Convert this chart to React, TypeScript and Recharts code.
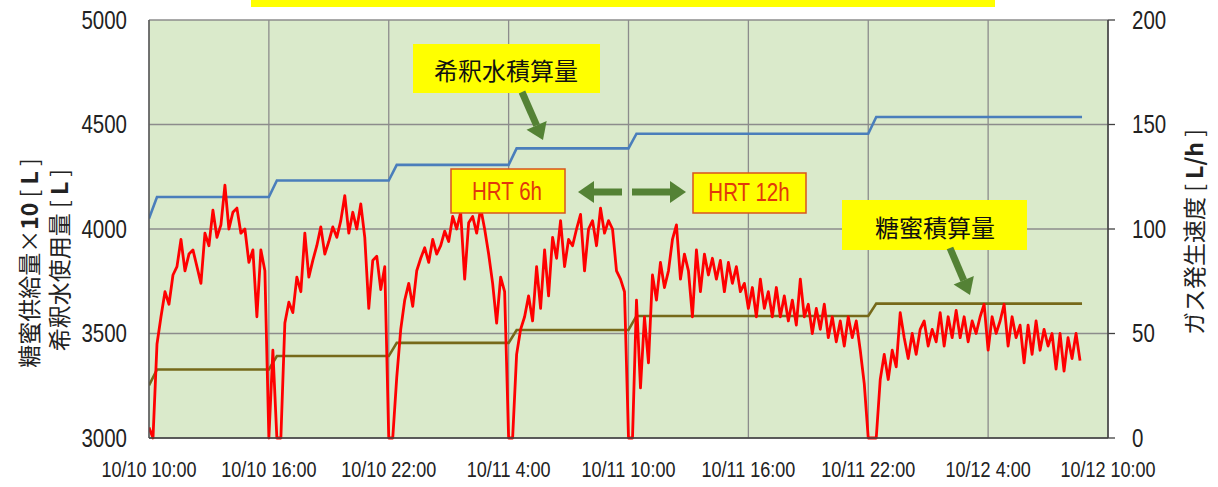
import React from "react";
import { ComposedChart, Line, XAxis, YAxis, CartesianGrid } from "recharts";

// ---- tick labels ----
const xTicks = [0, 6, 12, 18, 24, 30, 36, 42, 48];
const xTickLabels = [
  "10/10 10:00",
  "10/10 16:00",
  "10/10 22:00",
  "10/11 4:00",
  "10/11 10:00",
  "10/11 16:00",
  "10/11 22:00",
  "10/12 4:00",
  "10/12 10:00",
];
const leftTicks = [3000, 3500, 4000, 4500, 5000];
const rightTicks = [0, 50, 100, 150, 200];

// ---- 希釈水積算量 (hours from 10/10 10:00, L) ----
const waterHours = [0, 0.4, 6.0, 6.4, 12.0, 12.4, 18.0, 18.4, 24.0, 24.4, 36.0, 36.4, 46.7];
const waterValues = [4050, 4153, 4153, 4232, 4232, 4307, 4307, 4386, 4386, 4456, 4456, 4536, 4536];

// ---- 糖蜜積算量 ×10 (L) ----
const sugarHours = [0, 0.4, 6.0, 6.4, 12.0, 12.4, 18.0, 18.4, 24.0, 24.4, 36.0, 36.4, 46.7];
const sugarValues = [3252, 3328, 3328, 3392, 3392, 3455, 3455, 3517, 3517, 3584, 3584, 3643, 3643];

// ---- ガス発生速度 (L/h), one reading every 12 minutes from 10/10 10:00 ----
const gasStepHours = 0.2;
const gasValues = [
  // 10/10 10:00 - 16:00
  5, 0, 45, 58, 70, 64, 78, 82, 95, 80, 88, 90, 82, 74, 98, 92, 109, 96, 102, 121,
  100, 108, 110, 98, 100, 84, 90, 58, 90, 80,
  // 16:00 - 22:00
  0, 42, 0, 0, 55, 65, 60, 77, 70, 98, 77, 85, 92, 101, 88, 94, 101, 96, 104, 116,
  98, 108, 100, 112, 96, 62, 85, 87, 71, 82,
  // 22:00 - 4:00
  0, 0, 29, 52, 66, 74, 63, 80, 86, 91, 84, 95, 88, 92, 99, 94, 106, 100, 108, 76,
  103, 106, 98, 110, 100, 88, 74, 55, 77, 70,
  // 4:00 - 10:00
  0, 0, 40, 52, 58, 68, 56, 82, 62, 90, 68, 96, 86, 104, 82, 95, 92, 100, 107, 80,
  100, 104, 92, 110, 98, 104, 100, 80, 76, 70,
  // 10/11 10:00 - 22:00
  0, 0, 66, 24, 58, 36, 78, 66, 84, 72, 80, 95, 102, 76, 88, 80, 58, 90, 70, 88,
  78, 86, 76, 85, 70, 84, 74, 82, 70, 74, 62, 72, 58, 76, 62, 70, 58, 72, 58, 68,
  56, 66, 54, 76, 58, 64, 50, 62, 52, 64, 48, 58, 46, 56, 44, 58, 48, 56, 42, 26,
  // 10/11 22:00 - 10/12 8:40
  0, 0, 0, 28, 40, 28, 42, 34, 60, 48, 38, 50, 40, 52, 56, 44, 52, 46, 60, 44,
  58, 48, 61, 48, 58, 46, 56, 50, 58, 64, 42, 58, 50, 56, 64, 44, 58, 48, 54, 36,
  54, 40, 56, 42, 52, 44, 50, 33, 50, 32, 48, 38, 50, 37,
];

const waterData = waterHours.map((h, i) => ({ h, v: waterValues[i] }));
const sugarData = sugarHours.map((h, i) => ({ h, v: sugarValues[i] }));
const gasData = gasValues.map((v, i) => ({ h: Math.round(i * gasStepHours * 100) / 100, v }));

const SANS = "'Liberation Sans', Arial, sans-serif";
const CJK = "'Noto Sans CJK JP', 'Noto Sans', sans-serif";
const ARROW = "#548235";
const NARROW_SCALE = 0.82;

function NarrowText({ x, y, anchor, size, dy, color, children, weight }: any) {
  return (
    <text
      transform={`translate(${x},${y}) scale(${NARROW_SCALE},1)`}
      textAnchor={anchor}
      dy={dy}
      fontFamily={SANS}
      fontSize={size}
      fontWeight={weight}
      fill={color}
    >
      {children}
    </text>
  );
}

const XTick = (props: any) => {
  const { x, y, payload } = props;
  const idx = xTicks.indexOf(payload.value);
  return (
    <NarrowText x={x} y={y} anchor="middle" size={22} dy="0.62em" color="#222">
      {idx >= 0 ? xTickLabels[idx] : payload.value}
    </NarrowText>
  );
};

const LeftTick = (props: any) => {
  const { x, y, payload } = props;
  return (
    <NarrowText x={x} y={y} anchor="end" size={25} dy="0.355em" color="#222">
      {payload.value}
    </NarrowText>
  );
};

const RightTick = (props: any) => {
  const { x, y, payload } = props;
  return (
    <NarrowText x={x} y={y} anchor="start" size={25} dy="0.355em" color="#222">
      {payload.value}
    </NarrowText>
  );
};

function Arrow({ x1, y1, x2, y2, w = 7, hl = 16, hw = 11 }: any) {
  const dx = x2 - x1;
  const dy = y2 - y1;
  const len = Math.sqrt(dx * dx + dy * dy);
  const ux = dx / len;
  const uy = dy / len;
  const bx = x2 - ux * hl;
  const by = y2 - uy * hl;
  const px = -uy;
  const py = ux;
  const pts = `${x2},${y2} ${bx + px * hw},${by + py * hw} ${bx - px * hw},${by - py * hw}`;
  return (
    <g>
      <line x1={x1} y1={y1} x2={bx} y2={by} stroke={ARROW} strokeWidth={w} />
      <polygon points={pts} fill={ARROW} />
    </g>
  );
}

function Overlay() {
  return (
    <svg
      width={1218}
      height={487}
      style={{ position: "absolute", left: 0, top: 0, pointerEvents: "none" }}
    >
      {/* cut-off title box */}
      <rect x={251} y={0} width={744} height={7} fill="#ffff00" />

      {/* left axis title */}
      <text
        transform="translate(28,263) rotate(-90)"
        textAnchor="middle"
        dominantBaseline="central"
        fontFamily={CJK}
        fontSize={23}
        fill="#222"
      >
        糖蜜供給量×<tspan fontWeight="bold">10</tspan> [ <tspan fontWeight="bold">L</tspan> ]
      </text>
      <text
        transform="translate(58,260) rotate(-90)"
        textAnchor="middle"
        dominantBaseline="central"
        fontFamily={CJK}
        fontSize={23}
        fill="#222"
      >
        希釈水使用量 [ <tspan fontWeight="bold">L</tspan> ]
      </text>

      {/* right axis title */}
      <text
        transform="translate(1193,232) rotate(-90)"
        textAnchor="middle"
        dominantBaseline="central"
        fontFamily={CJK}
        fontSize={23}
        fill="#222"
      >
        ガス発生速度 [ <tspan fontWeight="bold">L/h</tspan> ]
      </text>

      {/* 希釈水積算量 */}
      <rect x={413} y={44} width={187} height={49} fill="#ffff00" />
      <text x={506} y={69} textAnchor="middle" dominantBaseline="central" fontFamily={CJK} fontSize={24} fill="#111">
        希釈水積算量
      </text>
      <Arrow x1={522} y1={92} x2={543} y2={140} />

      {/* HRT 6h */}
      <rect x={451} y={169} width={114} height={44} fill="#ffff00" stroke="#d9541e" strokeWidth={1.5} />
      <NarrowText x={507} y={191} anchor="middle" size={25} dy="0.355em" color="#e2380b">
        HRT 6h
      </NarrowText>
      <Arrow x1={622} y1={192} x2={578} y2={192} />
      <Arrow x1={632} y1={192} x2={686} y2={192} />

      {/* HRT 12h */}
      <rect x={693} y={173} width={113} height={40} fill="#ffff00" stroke="#d9541e" strokeWidth={1.5} />
      <NarrowText x={749} y={192} anchor="middle" size={25} dy="0.355em" color="#e2380b">
        HRT 12h
      </NarrowText>

      {/* 糖蜜積算量 */}
      <rect x={842} y={200} width={185} height={50} fill="#ffff00" />
      <text x={935} y={226} textAnchor="middle" dominantBaseline="central" fontFamily={CJK} fontSize={24} fill="#111">
        糖蜜積算量
      </text>
      <Arrow x1={950} y1={248} x2={970} y2={295} />
    </svg>
  );
}

export default function App() {
  return (
    <div style={{ position: "absolute", left: 0, top: 0, width: 1218, height: 487, background: "#fff" }}>
      <ComposedChart
        width={1218}
        height={487}
        margin={{ top: 20, right: 50, bottom: 19, left: 89 }}
      >
        <CartesianGrid
          yAxisId="left"
          stroke="#8c8c8c"
          strokeWidth={1.3}
          fill="#daeacb"
          fillOpacity={1}
        />
        <XAxis
          dataKey="h"
          type="number"
          domain={[0, 48]}
          ticks={xTicks}
          interval={0}
          allowDataOverflow
          tickLine={false}
          tickSize={0}
          tickMargin={25}
          height={30}
          axisLine={{ stroke: "#404040", strokeWidth: 1.5 }}
          tick={XTick}
        />
        <YAxis
          yAxisId="left"
          orientation="left"
          domain={[3000, 5000]}
          ticks={leftTicks}
          interval={0}
          width={60}
          tickLine={false}
          tickSize={0}
          tickMargin={22}
          axisLine={{ stroke: "#505050", strokeWidth: 1.3 }}
          tick={LeftTick}
        />
        <YAxis
          yAxisId="right"
          orientation="right"
          domain={[0, 200]}
          ticks={rightTicks}
          interval={0}
          width={60}
          tickSize={7}
          tickMargin={17}
          tickLine={{ stroke: "#404040", strokeWidth: 1.3 }}
          axisLine={{ stroke: "#404040", strokeWidth: 1.5 }}
          tick={RightTick}
        />
        <Line
          yAxisId="left"
          data={waterData}
          dataKey="v"
          type="linear"
          stroke="#4a7ebb"
          strokeWidth={2.6}
          dot={false}
          isAnimationActive={false}
        />
        <Line
          yAxisId="left"
          data={sugarData}
          dataKey="v"
          type="linear"
          stroke="#76691a"
          strokeWidth={2.6}
          dot={false}
          isAnimationActive={false}
        />
        <Line
          yAxisId="right"
          data={gasData}
          dataKey="v"
          type="linear"
          stroke="#ff0000"
          strokeWidth={2.8}
          strokeLinejoin="round"
          dot={false}
          isAnimationActive={false}
        />
      </ComposedChart>
      <Overlay />
    </div>
  );
}
